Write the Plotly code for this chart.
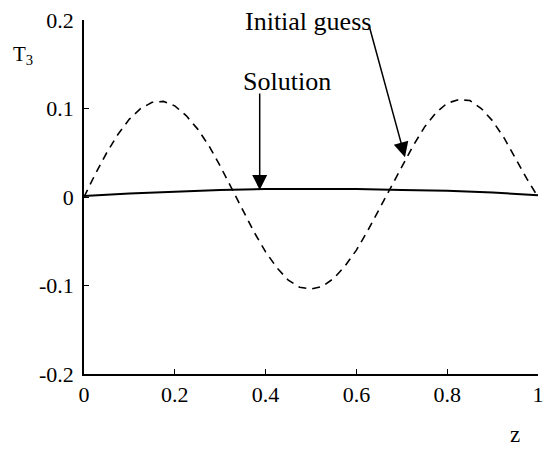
import plotly.graph_objects as go

# ---- data ----
z_guess = [0.0, 0.025, 0.05, 0.075, 0.1, 0.125, 0.15, 0.175, 0.2, 0.225,
           0.25, 0.275, 0.3, 0.325, 0.35, 0.375, 0.4, 0.425, 0.45, 0.475,
           0.5, 0.525, 0.55, 0.575, 0.6, 0.625, 0.65, 0.675, 0.7, 0.725,
           0.75, 0.775, 0.8, 0.825, 0.85, 0.875, 0.9, 0.925, 0.95, 0.975, 1.0]
t3_guess = [0.000, 0.026, 0.050, 0.071, 0.088, 0.100, 0.107, 0.108, 0.103, 0.092,
            0.077, 0.058, 0.035, 0.010, -0.016, -0.040, -0.062, -0.080, -0.094, -0.102,
            -0.104, -0.101, -0.092, -0.078, -0.060, -0.038, -0.014, 0.010, 0.035, 0.058,
            0.079, 0.095, 0.106, 0.110, 0.109, 0.100, 0.086, 0.067, 0.044, 0.021, 0.000]

z_sol = [0.0, 0.1, 0.2, 0.3, 0.4, 0.5, 0.6, 0.7, 0.8, 0.9, 1.0]
t3_sol = [0.001, 0.004, 0.006, 0.008, 0.009, 0.009, 0.009, 0.008, 0.007, 0.005, 0.002]

x_tickvals = [0, 0.2, 0.4, 0.6, 0.8, 1]
x_ticktext = ["0", "0.2", "0.4", "0.6", "0.8", "1"]
y_tickvals = [-0.2, -0.1, 0, 0.1, 0.2]
y_ticktext = ["-0.2", "-0.1", "0", "0.1", "0.2"]

FONT = "Liberation Serif"

fig = go.Figure()
fig.add_trace(go.Scatter(x=z_guess, y=t3_guess, mode="lines",
                         line=dict(color="black", width=1.6, dash="8px,6px"),
                         name="Initial guess", showlegend=False))
fig.add_trace(go.Scatter(x=z_sol, y=t3_sol, mode="lines",
                         line=dict(color="black", width=2),
                         name="Solution", showlegend=False))

fig.update_layout(
    width=546, height=451,
    margin=dict(l=84, r=2, t=20, b=77),
    paper_bgcolor="white", plot_bgcolor="white",
    font=dict(family=FONT, color="black", size=20),
    xaxis=dict(range=[0, 1], tickvals=x_tickvals, ticktext=x_ticktext,
               showgrid=False, zeroline=False, showline=True, linecolor="black",
               linewidth=1.5, ticks="inside", ticklen=5, tickcolor="black",
               ticklabeloverflow="allow",
               tickfont=dict(family=FONT, size=22)),
    yaxis=dict(range=[-0.2, 0.2], tickvals=y_tickvals, ticktext=y_ticktext,
               showgrid=False, zeroline=False, showline=True, linecolor="black",
               linewidth=1.5, ticks="inside", ticklen=5, tickcolor="black",
               ticklabelstandoff=4,
               tickfont=dict(family=FONT, size=22)),
)

# axis titles placed as in the reference
fig.add_annotation(text="T<sub>3</sub>", xref="paper", yref="paper",
                   x=-0.135, y=0.90, xanchor="center", yanchor="middle",
                   showarrow=False, font=dict(family=FONT, size=21))
fig.add_annotation(text="z", xref="paper", yref="paper",
                   x=0.95, y=-0.17, xanchor="center", yanchor="middle",
                   showarrow=False, font=dict(family=FONT, size=23))

# labels
fig.add_annotation(text="Initial guess", x=0.493, y=0.198, xref="x", yref="y",
                   showarrow=False, font=dict(family=FONT, size=26))
fig.add_annotation(text="Solution", x=0.448, y=0.130, xref="x", yref="y",
                   showarrow=False, font=dict(family=FONT, size=26))

# arrows
fig.add_annotation(text="", x=0.707, y=0.045, xref="x", yref="y",
                   ax=-36, ay=-132, showarrow=True, arrowhead=2,
                   arrowsize=2, arrowwidth=1.5, arrowcolor="black")
fig.add_annotation(text="", x=0.387, y=0.008, xref="x", yref="y",
                   ax=0, ay=-98, showarrow=True, arrowhead=2,
                   arrowsize=2, arrowwidth=1.5, arrowcolor="black")

fig.write_html("out.html")
